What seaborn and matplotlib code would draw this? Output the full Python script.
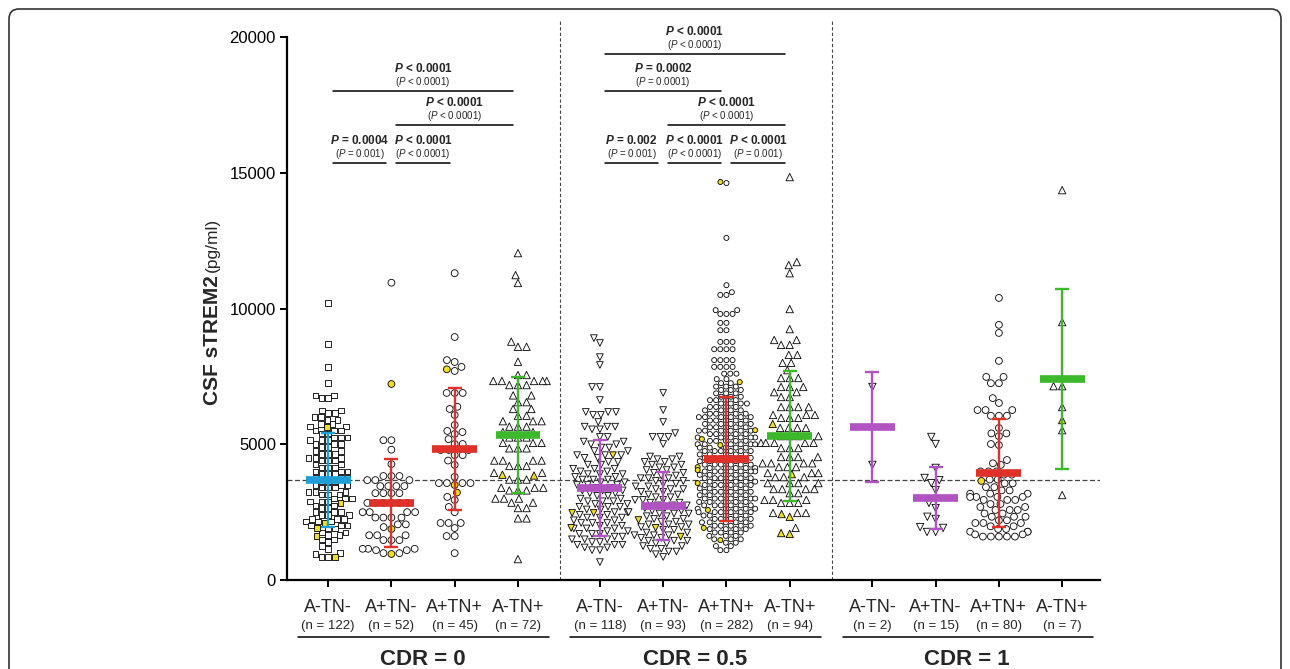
import numpy as np
import pandas as pd
import matplotlib
matplotlib.use("Agg")
import matplotlib.pyplot as plt
import seaborn as sns
from matplotlib.patches import FancyBboxPatch
from matplotlib.transforms import IdentityTransform

# ---- groups / labels ----
cdr_labels = ["CDR = 0", "CDR = 0.5", "CDR = 1"]
group_names = ["A-TN-", "A+TN-", "A+TN+", "A-TN+"] * 3
n_labels = [122, 52, 45, 72, 118, 93, 282, 94, 2, 15, 80, 7]

# ---- sTREM2 values (pg/ml); levels + how many points sit there ----
# CDR 0
c0_aneg_tneg_lv = [10200, 8700, 7850, 7250, 6800, 6700, 6250, 6150, 6000, 5900, 5750, 5650, 5500, 5400,
                   5250, 5150, 5000, 4900, 4750, 4650, 4500, 4400, 4250, 4150, 4000, 3900, 3750, 3650,
                   3500, 3400, 3250, 3150, 3000, 2900, 2750, 2650, 2500, 2400, 2250, 2150, 2000, 1900,
                   1750, 1650, 1500, 1400, 1250, 1150, 1000, 950, 850]
c0_aneg_tneg_n = [1, 1, 1, 1, 2, 2, 2, 2, 2, 2, 2, 2, 3, 2, 3, 3, 3, 2, 2, 3, 3, 3, 2, 3, 3, 3, 3, 3,
                  3, 3, 3, 3, 3, 3, 2, 2, 3, 3, 3, 3, 3, 2, 2, 2, 2, 1, 1, 1, 1, 1, 2]
c0_aneg_tneg_yel = [5630, 2830, 2100, 1910, 1620, 850]

c0_apos_tneg_lv = [10950, 5150, 4800, 4270, 3830, 3680, 3460, 3200, 2840, 2500, 2300, 2050, 1950,
                   1650, 1470, 1150, 1100, 990]
c0_apos_tneg_n = [1, 2, 1, 1, 3, 3, 4, 4, 6, 4, 4, 2, 1, 3, 3, 3, 2, 2]
c0_apos_tneg_yel = [7220, 1880, 960]

c0_apos_tpos_lv = [11300, 8950, 8100, 8030, 7850, 7700, 6890, 6380, 6300, 6080, 5710, 5490, 5450, 5380,
                   5190, 5010, 4790, 4600, 4400, 4240, 3800, 3570, 3060, 2950, 2690, 2500, 2100, 1915,
                   1620, 990]
c0_apos_tpos_n = [1, 1, 1, 1, 1, 1, 3, 1, 1, 1, 1, 1, 1, 1, 1, 2, 3, 2, 1, 1, 1, 4, 1, 1, 1, 1, 3, 1, 2, 1]
c0_apos_tpos_yel = [7760, 3500, 3220]

c0_aneg_tpos_lv = [12040, 11230, 10940, 8780, 8590, 8040, 7550, 7330, 7180, 6800, 6550, 6300, 6050,
                   5850, 5650, 5450, 5250, 5050, 4850, 4400, 4200, 3950, 3700, 3400, 3300, 3000, 2850,
                   2650, 2270, 770]
c0_aneg_tpos_n = [1, 1, 1, 1, 2, 1, 2, 5, 3, 2, 2, 2, 2, 3, 3, 2, 3, 3, 3, 4, 3, 2, 3, 3, 3, 3, 2, 2, 2, 1]
c0_aneg_tpos_yel = [3850, 3880]

# CDR 0.5
c05_aneg_tneg_lv = [8910, 8730, 8210, 7920, 7110, 6630, 6190, 6080, 5820, 5650, 5550, 5270, 5100, 5000,
                    4880, 4750, 4600, 4500, 4350, 4250, 4100, 4000, 3900, 3800, 3700, 3600, 3500, 3400,
                    3300, 3200, 3100, 3000, 2900, 2800, 2700, 2600, 2500, 2400, 2300, 2200, 2100, 2000,
                    1900, 1800, 1700, 1600, 1500, 1400, 1300, 1200, 1100, 660]
c05_aneg_tneg_n = [1, 1, 1, 1, 2, 1, 3, 2, 1, 3, 2, 2, 2, 2, 2, 2, 3, 2, 2, 2, 3, 2, 3, 2, 3, 2, 3, 2,
                   3, 2, 2, 2, 3, 2, 3, 2, 3, 2, 3, 2, 3, 2, 3, 2, 3, 2, 3, 2, 3, 2, 2, 1]
c05_aneg_tneg_yel = [4600, 2470, 2470, 1920]

c05_apos_tneg_lv = [6890, 6260, 5820, 5410, 5270, 5010, 4550, 4450, 4350, 4250, 4150, 4050, 3950, 3850,
                    3750, 3650, 3550, 3450, 3350, 3250, 3150, 3050, 2950, 2850, 2750, 2650, 2550, 2450,
                    2350, 2250, 2150, 2050, 1950, 1850, 1750, 1650, 1550, 1450, 1350, 1250, 1150, 1050,
                    950, 850]
c05_apos_tneg_n = [1, 1, 1, 1, 3, 1, 2, 2, 2, 2, 2, 2, 2, 2, 3, 2, 2, 2, 3, 2, 2, 2, 3, 2, 3, 2, 2, 3,
                   2, 2, 2, 3, 2, 2, 2, 3, 2, 3, 2, 2, 2, 2, 1, 1]
c05_apos_tneg_yel = [2210, 1920, 1600]

c05_apos_tpos_lv = [14620, 12600, 10860, 10600, 10500, 9940, 9800, 9470, 9200, 8770, 8500, 8100, 7850,
                    7600, 7400, 7250, 7125, 7000, 6875, 6750, 6625, 6500, 6375, 6250, 6125, 6000, 5875,
                    5750, 5625, 5500, 5375, 5250, 5125, 5000, 4875, 4750, 4625, 4500, 4375, 4250, 4125,
                    4000, 3875, 3750, 3625, 3500, 3375, 3250, 3125, 3000, 2875, 2750, 2625, 2500, 2375,
                    2250, 2125, 2000, 1875, 1750, 1625, 1500, 1375, 1250, 1100]
c05_apos_tpos_n = [1, 1, 1, 1, 2, 2, 3, 2, 2, 3, 4, 4, 4, 3, 2, 2, 3, 3, 3, 3, 4, 4, 4, 4, 5, 6, 5, 5,
                   5, 6, 5, 6, 5, 6, 5, 6, 5, 6, 5, 6, 5, 7, 5, 6, 5, 6, 5, 6, 5, 7, 5, 6, 5, 6, 5, 5,
                   5, 5, 4, 4, 3, 3, 2, 2, 2]
c05_apos_tpos_yel = [14660, 7290, 5520, 5190, 4970, 4160, 4050, 3570, 2580, 1920, 1470]

c05_aneg_tpos_lv = [14840, 11710, 11600, 11300, 9980, 9240, 8840, 8660, 8290, 8000, 7730, 7440, 7110,
                    6920, 6740, 6370, 6080, 5970, 5600, 5300, 5050, 4860, 4530, 4300, 4160, 3940, 3790,
                    3570, 3350, 3200, 2950, 2840, 2470, 1920]
c05_aneg_tpos_n = [1, 1, 1, 1, 1, 1, 2, 2, 2, 2, 1, 3, 3, 2, 2, 4, 3, 3, 4, 4, 5, 3, 4, 4, 3, 3, 3, 4,
                   4, 2, 3, 3, 3, 1]
c05_aneg_tpos_yel = [5750, 3900, 2430, 2330, 1700, 1730]

# CDR 1
c1_aneg_tneg_lv = [7110, 4240]
c1_aneg_tneg_n = [1, 1]
c1_aneg_tneg_yel = []

c1_apos_tneg_lv = [5270, 5010, 4130, 3760, 3680, 3570, 3310, 2840, 2650, 2330, 2250, 1950, 1920, 1770]
c1_apos_tneg_n = [1, 1, 1, 1, 1, 1, 1, 1, 1, 1, 1, 1, 1, 2]
c1_apos_tneg_yel = []

c1_apos_tpos_lv = [10390, 9400, 9100, 8070, 7480, 7250, 6700, 6520, 6260, 6050, 5600, 5400, 5300, 5010,
                   4970, 4420, 4300, 4240, 4000, 3880, 3700, 3560, 3420, 3300, 3180, 3060, 2950, 2800,
                   2690, 2580, 2450, 2330, 2200, 2100, 1980, 1880, 1780, 1680, 1600]
c1_apos_tpos_n = [1, 1, 1, 1, 2, 2, 1, 1, 3, 3, 1, 2, 1, 1, 1, 1, 1, 1, 3, 2, 2, 2, 2, 2, 3, 4, 3, 2,
                  2, 3, 2, 3, 2, 3, 2, 2, 3, 2, 5]
c1_apos_tpos_yel = [3650]

c1_aneg_tpos_lv = [14360, 9500, 7140, 6370, 5520, 3130]
c1_aneg_tpos_n = [1, 1, 2, 1, 1, 1]
c1_aneg_tpos_yel = [5890]

# mean and SD bars as drawn
means = [3683, 2836, 4825, 5341, 3389, 2726, 4457, 5304, 5635, 3020, 3941, 7403]
sds = [1715, 1620, 2247, 2140, 1750, 1270, 2280, 2390, 2020, 1140, 1990, 3330]

# pairwise comparisons: (group i, group j, bar height, p, p in brackets)
comparisons = [
    (0, 1, 15360, "= 0.0004", "= 0.001"),
    (1, 2, 15360, "< 0.0001", "< 0.0001"),
    (1, 3, 16750, "< 0.0001", "< 0.0001"),
    (0, 3, 18010, "< 0.0001", "< 0.0001"),
    (4, 5, 15360, "= 0.002", "= 0.001"),
    (5, 6, 15360, "< 0.0001", "< 0.0001"),
    (6, 7, 15360, "< 0.0001", "= 0.001"),
    (5, 7, 16750, "< 0.0001", "< 0.0001"),
    (4, 6, 18010, "= 0.0002", "= 0.0001"),
    (4, 7, 19370, "< 0.0001", "< 0.0001"),
]

groups = [
    (c0_aneg_tneg_lv, c0_aneg_tneg_n, c0_aneg_tneg_yel),
    (c0_apos_tneg_lv, c0_apos_tneg_n, c0_apos_tneg_yel),
    (c0_apos_tpos_lv, c0_apos_tpos_n, c0_apos_tpos_yel),
    (c0_aneg_tpos_lv, c0_aneg_tpos_n, c0_aneg_tpos_yel),
    (c05_aneg_tneg_lv, c05_aneg_tneg_n, c05_aneg_tneg_yel),
    (c05_apos_tneg_lv, c05_apos_tneg_n, c05_apos_tneg_yel),
    (c05_apos_tpos_lv, c05_apos_tpos_n, c05_apos_tpos_yel),
    (c05_aneg_tpos_lv, c05_aneg_tpos_n, c05_aneg_tpos_yel),
    (c1_aneg_tneg_lv, c1_aneg_tneg_n, c1_aneg_tneg_yel),
    (c1_apos_tneg_lv, c1_apos_tneg_n, c1_apos_tneg_yel),
    (c1_apos_tpos_lv, c1_apos_tpos_n, c1_apos_tpos_yel),
    (c1_aneg_tpos_lv, c1_aneg_tpos_n, c1_aneg_tpos_yel),
]

# ---- style ----
# x positions (groups spaced 0.88 apart so the swarm may use ~0.9 of the slot)
positions = [0, 0.88, 1.76, 2.64, 3.78, 4.66, 5.54, 6.42, 7.57, 8.45, 9.33, 10.21]
separators = [3.225, 7.005]
markers = ["s", "o", "o", "^", "v", "v", "o", "^", "v", "v", "o", "^"]
msizes = [4.0, 4.9, 4.9, 5.3, 4.8, 4.8, 3.6, 5.3, 5.3, 5.3, 4.9, 5.3]
BLUE, RED, GREEN, PURPLE = "#1d9fd6", "#e0302a", "#3db82c", "#b153c0"
bar_colors = [BLUE, RED, RED, GREEN, PURPLE, PURPLE, RED, GREEN, PURPLE, PURPLE, RED, GREEN]
YELLOW = "#f4de1c"

sns.set_theme(style="ticks")
plt.rcParams["font.family"] = ["Liberation Sans", "DejaVu Sans"]
plt.rcParams["mathtext.fontset"] = "custom"
plt.rcParams["mathtext.rm"] = "Liberation Sans"
plt.rcParams["mathtext.it"] = "Liberation Sans:italic"
plt.rcParams["mathtext.bf"] = "Liberation Sans:bold"
plt.rcParams["mathtext.bfit"] = "Liberation Sans:italic:bold"

fig = plt.figure(figsize=(12.9, 6.69), dpi=100)
ax = fig.add_axes([0.2225, 0.1330, 0.6302, 0.8117])

for k, (lv, cnt, yel) in enumerate(groups):
    vals = list(np.repeat(lv, cnt)) + list(yel)
    fill = ["w"] * int(np.sum(cnt)) + ["y"] * len(yel)
    df = pd.DataFrame({"x": positions[k], "y": vals, "fill": fill})
    sns.swarmplot(data=df, x="x", y="y", hue="fill", hue_order=["w", "y"],
                  palette={"w": "white", "y": YELLOW}, native_scale=True, orient="x",
                  marker=markers[k], size=msizes[k], edgecolor="black", linewidth=0.6,
                  legend=False, warn_thresh=1, ax=ax, zorder=3)

# mean +/- SD
half = 0.312
for k in range(len(positions)):
    ax.errorbar(positions[k], means[k], yerr=sds[k], fmt="none", ecolor=bar_colors[k],
                elinewidth=1.7, capsize=5, capthick=1.7, zorder=5)
    ax.hlines(means[k], positions[k] - half, positions[k] + half, color=bar_colors[k],
              lw=5.5, zorder=6)

ax.set_xlim(-0.572, 10.736)
ax.set_ylim(0, 20000)
ax.set_yticks([0, 5000, 10000, 15000, 20000])
ax.set_xticks(positions)
ax.set_xticklabels([""] * len(positions))
ax.set_xlabel("")
ax.set_ylabel("")
sns.despine(ax=ax)
for s in ["left", "bottom"]:
    ax.spines[s].set_linewidth(1.6)
    ax.spines[s].set_color("black")
ax.tick_params(axis="both", direction="out", length=5, width=1.4, color="black",
               labelsize=12, labelcolor="black", pad=3)

# reference line at CDR 0 A-TN- mean and separators
ax.axhline(means[0], color="#444444", lw=0.9, ls=(0, (4, 2)), zorder=2)
for xv in separators:
    ax.plot([xv, xv], [0, 20650], color="#444444", lw=0.8, ls=(0, (3, 2)),
            clip_on=False, zorder=1)

# significance bars
for i, j, yb, p_main, p_par in comparisons:
    x0, x1 = positions[i] + 0.07, positions[j] - 0.07
    ax.plot([x0, x1], [yb, yb], color="black", lw=1.1, clip_on=False, zorder=4)
    xm = (x0 + x1) / 2
    ax.text(xm, yb + 830, r"$\mathbfit{P}$ " + p_main, ha="center", va="center",
            fontsize=8.5, fontweight="bold", clip_on=False)
    ax.text(xm, yb + 330, r"($\mathit{P}$ " + p_par + ")", ha="center", va="center",
            fontsize=7, clip_on=False)

# group labels under the axis
tr = ax.get_xaxis_transform()
for k in range(len(positions)):
    ax.text(positions[k], -0.0497, group_names[k], transform=tr, ha="center", va="center",
            fontsize=13)
    ax.text(positions[k], -0.0847, "(n = %d)" % n_labels[k], transform=tr, ha="center",
            va="center", fontsize=9.5)
for c in range(3):
    first, last = positions[4 * c], positions[4 * c + 3]
    ax.plot([first - 0.414, last + 0.431], [-0.105, -0.105], transform=tr, color="black",
            lw=1.1, clip_on=False)
    ax.text((first + last) / 2, -0.1455, cdr_labels[c], transform=tr, ha="center",
            va="center", fontsize=16, fontweight="bold")

# y label: bold part + units
yl = fig.text(212 / 1290, 1 - 405 / 669, "CSF sTREM2", rotation=90, ha="center",
              va="bottom", fontsize=15, fontweight="bold")
renderer = fig.canvas.get_renderer()
bb = yl.get_window_extent(renderer)
fig.text(212 / 1290, (bb.y1 + 3) / 669, "(pg/ml)", rotation=90, ha="center", va="bottom",
         fontsize=12.5)

# rounded frame around the panel
frame = FancyBboxPatch((9, -40), 1272, 700, boxstyle="round,pad=0,rounding_size=10",
                       transform=IdentityTransform(), fill=False, ec="#333333", lw=1.2)
fig.add_artist(frame)

fig.savefig("out.png", dpi=100)
